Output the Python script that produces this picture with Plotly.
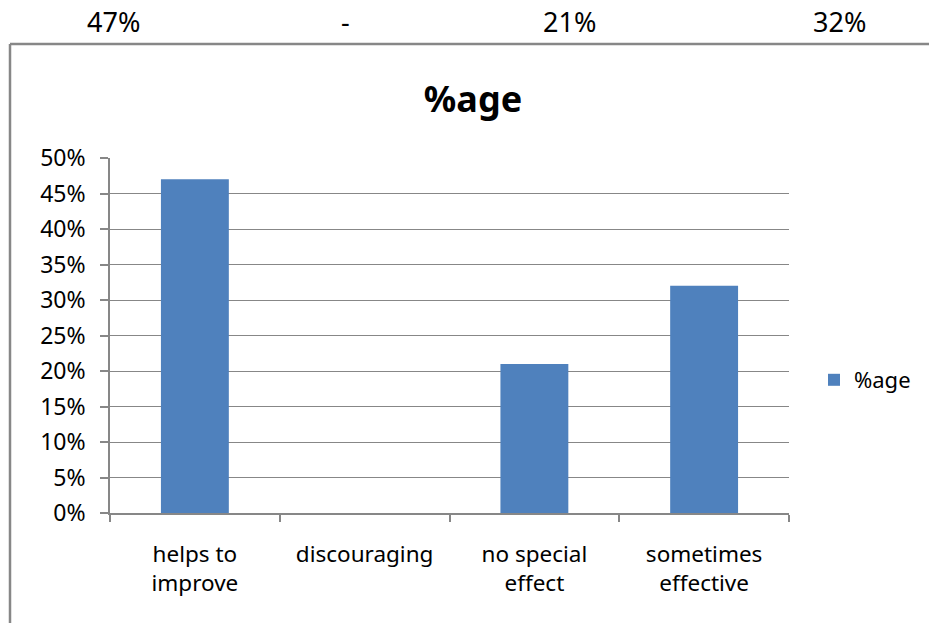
import plotly.graph_objects as go

# Survey responses and their shares
categories = ["helps to<br>improve", "discouraging", "no special<br>effect", "sometimes<br>effective"]
shares = [0.47, 0.0, 0.21, 0.32]
series_name = "%age"
y_ticks = [0, 0.05, 0.10, 0.15, 0.20, 0.25, 0.30, 0.35, 0.40, 0.45, 0.50]

W, H = 929, 623
L, R, T, B = 110, 140, 158, 110
pw, ph = W - L - R, H - T - B

def px_x(x):
    return (x - L) / pw

def px_y(y):
    return (H - B - y) / ph

GRAY = "#878787"
FONT = "Noto Sans"

fig = go.Figure()
fig.add_trace(go.Bar(
    x=categories, y=shares, name=series_name,
    marker=dict(color="#4F81BD", line=dict(width=0)),
    showlegend=True,
))

# header row of values above the chart frame
header_x = [113, 345, 569, 839]
annotations = []
for v, hx in zip(shares, header_x):
    txt = "-" if v == 0 else f"{round(v * 100)}%"
    annotations.append(dict(
        x=px_x(hx), y=px_y(21), xref="paper", yref="paper",
        text=txt, showarrow=False, xanchor="center", yanchor="middle",
        font=dict(family=FONT, size=27, color="#000000"),
    ))

# chart frame (top and left edges)
shapes = [
    dict(type="line", xref="paper", yref="paper",
         x0=px_x(10), x1=px_x(940), y0=px_y(44), y1=px_y(44),
         line=dict(color=GRAY, width=2.5)),
    dict(type="line", xref="paper", yref="paper",
         x0=px_x(10), x1=px_x(10), y0=px_y(44), y1=px_y(640),
         line=dict(color=GRAY, width=2.5)),
]

fig.update_layout(
    width=W, height=H,
    margin=dict(l=L, r=R, t=T, b=B),
    paper_bgcolor="white", plot_bgcolor="white",
    font=dict(family=FONT, size=22, color="#000000"),
    title=dict(text="<b>%age</b>", x=473 / W, y=1 - 99 / H,
               xref="container", yref="container",
               xanchor="center", yanchor="middle",
               font=dict(family=FONT, size=36, color="#000000")),
    bargap=0.6,
    showlegend=True,
    legend=dict(x=px_x(814), y=px_y(380), xanchor="left", yanchor="middle",
                font=dict(family=FONT, size=22), bgcolor="rgba(0,0,0,0)",
                itemwidth=30),
    annotations=annotations,
    shapes=shapes,
)

fig.update_xaxes(
    type="category", tickson="boundaries", ticks="outside", ticklen=7,
    tickcolor=GRAY, tickwidth=1.5, showline=True, linecolor=GRAY, linewidth=1.5,
    showgrid=False, ticklabelstandoff=20, tickangle=0,
    tickfont=dict(family=FONT, size=22.5),
)
fig.update_yaxes(
    range=[0, 0.5], tickvals=y_ticks, tickformat=".0%",
    ticks="outside", ticklen=8, tickcolor=GRAY, tickwidth=1.5,
    showline=True, linecolor=GRAY, linewidth=1.5,
    showgrid=True, gridcolor=GRAY, gridwidth=1.2,
    zeroline=False, ticklabelstandoff=10,
    tickfont=dict(family=FONT, size=23),
)

fig.write_html("out.html")
